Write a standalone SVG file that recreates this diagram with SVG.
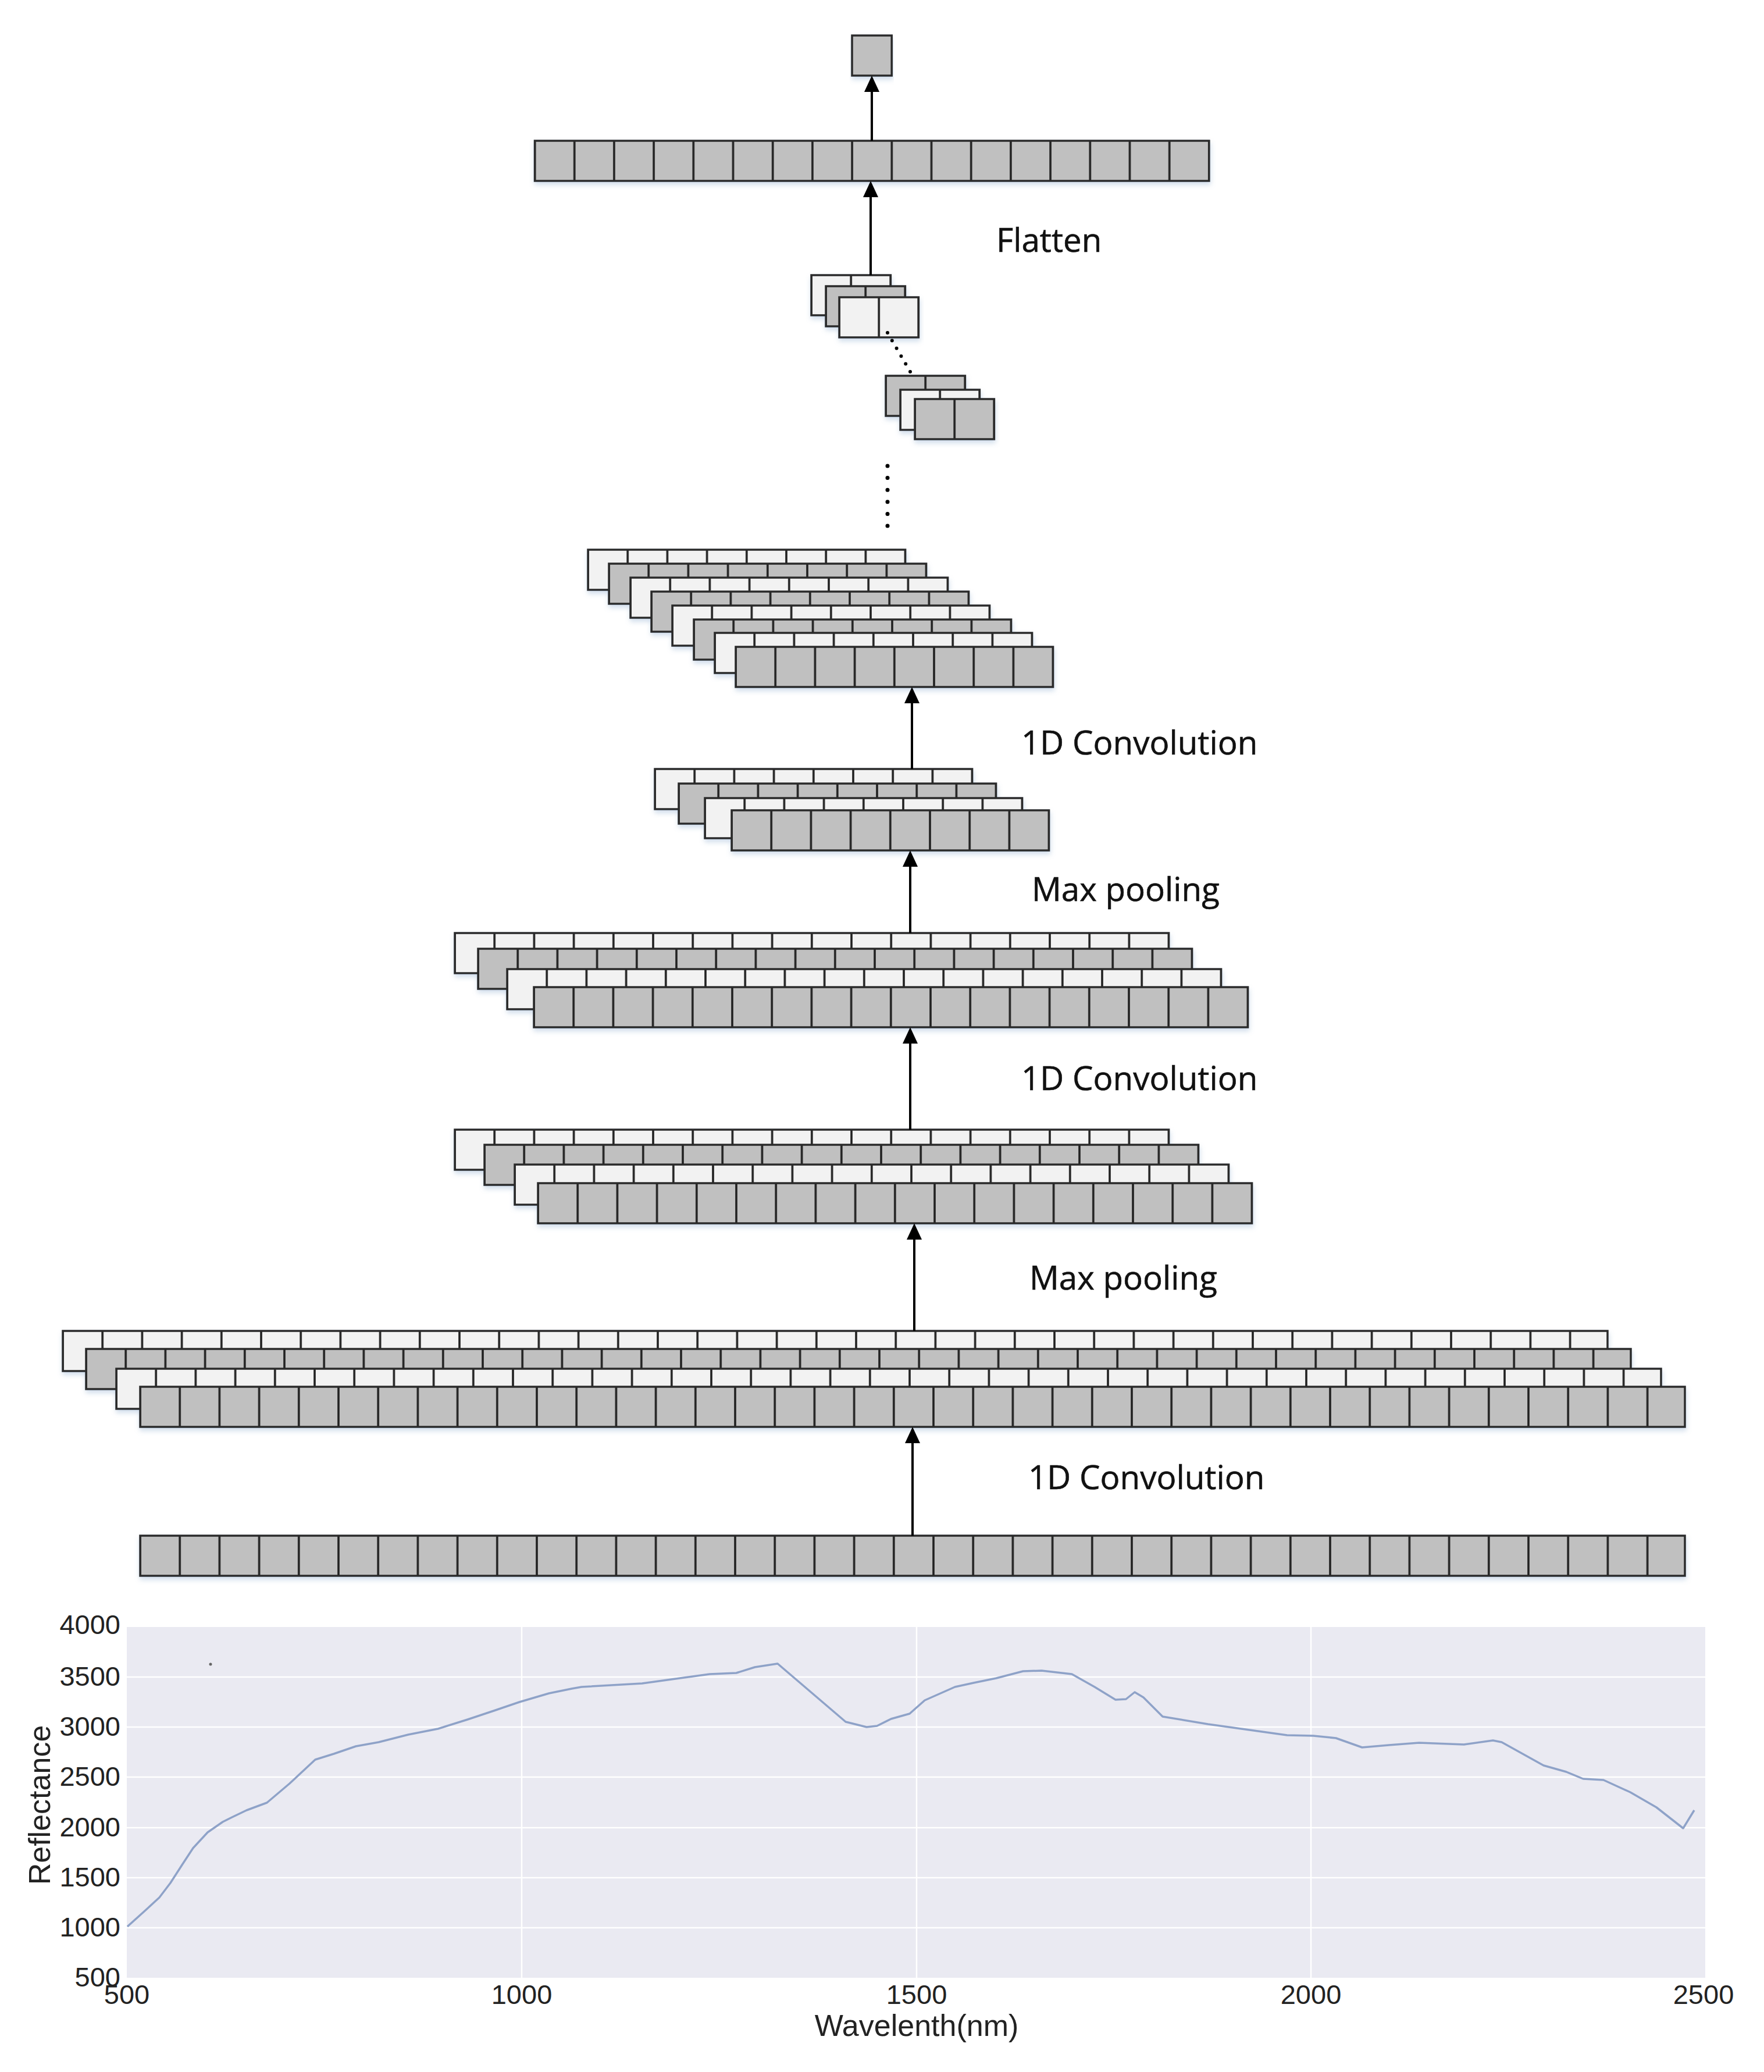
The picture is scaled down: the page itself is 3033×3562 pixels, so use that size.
<svg xmlns="http://www.w3.org/2000/svg" width="3033" height="3562" viewBox="0 0 3033 3562">
<style>
.lay{stroke:#2a2a2a;stroke-width:3.5}
.lbl{font-family:"Open Sans","Liberation Sans",sans-serif;font-size:56.5px;fill:#111;stroke:#111;stroke-width:0.6}
.tick{font-family:"Liberation Sans",Arial,sans-serif;font-size:47px;fill:#222}
.axl{font-family:"Liberation Sans",Arial,sans-serif;font-size:52px;fill:#222}
.conn{stroke:#000;stroke-width:4;fill:none}
.grid{stroke:#ffffff;stroke-width:2.5}
</style>
<defs>
<pattern id="pd" width="68.2" height="69" patternUnits="userSpaceOnUse">
<rect width="68.2" height="69" fill="#c0c0c0"/>
<rect width="1.8" height="69" fill="#222"/>
<rect x="66.4" width="1.8" height="69" fill="#222"/>
</pattern>
<pattern id="pl" width="68.2" height="69" patternUnits="userSpaceOnUse">
<rect width="68.2" height="69" fill="#f2f2f2"/>
<rect width="1.8" height="69" fill="#222"/>
<rect x="66.4" width="1.8" height="69" fill="#222"/>
</pattern>
<filter id="sh" x="-5%" y="-30%" width="110%" height="170%">
<feDropShadow dx="1" dy="5" stdDeviation="4" flood-color="#7a9cc6" flood-opacity="0.35"/>
</filter>
<marker id="ah" viewBox="0 0 28 26" markerWidth="28" markerHeight="26" refX="20" refY="13" orient="auto" markerUnits="userSpaceOnUse">
<path d="M0,0 L28,13 L0,26 z" fill="#000"/>
</marker>
</defs>
<rect width="3033" height="3562" fill="#ffffff"/>

<!-- Output node -->
<g id="output" filter="url(#sh)">
<rect class="lay" x="1465" y="61" width="68.2" height="69" fill="#c0c0c0"/>
</g>

<!-- Flatten row -->
<g id="flatten-row" filter="url(#sh)">
<g transform="translate(919.5,242)"><rect class="lay" width="1159.4" height="69" fill="url(#pd)"/></g>
</g>

<!-- small stack A -->
<g id="stack-small-a" filter="url(#sh)">
<g transform="translate(1395,473)"><rect class="lay" width="136.4" height="69" fill="url(#pl)"/></g>
<g transform="translate(1420,492)"><rect class="lay" width="136.4" height="69" fill="url(#pd)"/></g>
<g transform="translate(1443,511)"><rect class="lay" width="136.4" height="69" fill="url(#pl)"/></g>
</g>

<!-- small stack B -->
<g id="stack-small-b" filter="url(#sh)">
<g transform="translate(1523,646)"><rect class="lay" width="136.4" height="69" fill="url(#pd)"/></g>
<g transform="translate(1548,670)"><rect class="lay" width="136.4" height="69" fill="url(#pl)"/></g>
<g transform="translate(1573,686)"><rect class="lay" width="136.4" height="69" fill="url(#pd)"/></g>
</g>

<!-- 8-layer stack -->
<g id="stack-conv2" filter="url(#sh)">
<g transform="translate(1011,945)"><rect class="lay" width="545.6" height="69" fill="url(#pl)"/></g>
<g transform="translate(1047,969)"><rect class="lay" width="545.6" height="69" fill="url(#pd)"/></g>
<g transform="translate(1084,993)"><rect class="lay" width="545.6" height="69" fill="url(#pl)"/></g>
<g transform="translate(1120,1017)"><rect class="lay" width="545.6" height="69" fill="url(#pd)"/></g>
<g transform="translate(1156,1041)"><rect class="lay" width="545.6" height="69" fill="url(#pl)"/></g>
<g transform="translate(1193,1065)"><rect class="lay" width="545.6" height="69" fill="url(#pd)"/></g>
<g transform="translate(1229,1088)"><rect class="lay" width="545.6" height="69" fill="url(#pl)"/></g>
<g transform="translate(1265,1112)"><rect class="lay" width="545.6" height="69" fill="url(#pd)"/></g>
</g>

<!-- pool2 stack -->
<g id="stack-pool2" filter="url(#sh)">
<g transform="translate(1126,1322)"><rect class="lay" width="545.6" height="69" fill="url(#pl)"/></g>
<g transform="translate(1167,1347)"><rect class="lay" width="545.6" height="69" fill="url(#pd)"/></g>
<g transform="translate(1212,1372)"><rect class="lay" width="545.6" height="69" fill="url(#pl)"/></g>
<g transform="translate(1258,1393)"><rect class="lay" width="545.6" height="69" fill="url(#pd)"/></g>
</g>

<!-- conv-b stack -->
<g id="stack-conv1b" filter="url(#sh)">
<g transform="translate(782,1604)"><rect class="lay" width="1227.6" height="69" fill="url(#pl)"/></g>
<g transform="translate(822,1631)"><rect class="lay" width="1227.6" height="69" fill="url(#pd)"/></g>
<g transform="translate(872,1666)"><rect class="lay" width="1227.6" height="69" fill="url(#pl)"/></g>
<g transform="translate(918,1697)"><rect class="lay" width="1227.6" height="69" fill="url(#pd)"/></g>
</g>

<!-- pool1 stack -->
<g id="stack-pool1" filter="url(#sh)">
<g transform="translate(782,1942)"><rect class="lay" width="1227.6" height="69" fill="url(#pl)"/></g>
<g transform="translate(833,1968)"><rect class="lay" width="1227.6" height="69" fill="url(#pd)"/></g>
<g transform="translate(885,2002)"><rect class="lay" width="1227.6" height="69" fill="url(#pl)"/></g>
<g transform="translate(925,2034)"><rect class="lay" width="1227.6" height="69" fill="url(#pd)"/></g>
</g>

<!-- conv1 stack -->
<g id="stack-conv1" filter="url(#sh)">
<g transform="translate(108,2288)"><rect class="lay" width="2656" height="69" fill="url(#pl)"/></g>
<g transform="translate(148,2319)"><rect class="lay" width="2656" height="69" fill="url(#pd)"/></g>
<g transform="translate(200,2353)"><rect class="lay" width="2656" height="69" fill="url(#pl)"/></g>
<g transform="translate(241,2384)"><rect class="lay" width="2656" height="69" fill="url(#pd)"/></g>
</g>

<!-- input row -->
<g id="input-row" filter="url(#sh)">
<g transform="translate(241,2640)"><rect class="lay" width="2656" height="69" fill="url(#pd)"/></g>
</g>

<!-- connectors -->
<g id="connectors">
<line class="conn" x1="1569" y1="2640" x2="1569" y2="2461" marker-end="url(#ah)"/>
<line class="conn" x1="1572" y1="2288" x2="1572" y2="2111" marker-end="url(#ah)"/>
<line class="conn" x1="1565" y1="1942" x2="1565" y2="1774" marker-end="url(#ah)"/>
<line class="conn" x1="1565" y1="1604" x2="1565" y2="1470" marker-end="url(#ah)"/>
<line class="conn" x1="1568" y1="1322" x2="1568" y2="1189" marker-end="url(#ah)"/>
<line class="conn" x1="1497" y1="473" x2="1497" y2="319" marker-end="url(#ah)"/>
<line class="conn" x1="1499" y1="242" x2="1499" y2="138" marker-end="url(#ah)"/>
<line x1="1526" y1="572" x2="1565" y2="639" stroke="#000" stroke-width="6" stroke-linecap="round" stroke-dasharray="0 15.5"/>
<line x1="1526" y1="801" x2="1526" y2="905" stroke="#000" stroke-width="7" stroke-linecap="round" stroke-dasharray="0 20.6"/>
</g>

<!-- labels -->
<g id="labels">
<text class="lbl" x="1713" y="433">Flatten</text>
<text class="lbl" x="1756" y="1297">1D Convolution</text>
<text class="lbl" x="1774" y="1549">Max pooling</text>
<text class="lbl" x="1756" y="1874">1D Convolution</text>
<text class="lbl" x="1770" y="2217">Max pooling</text>
<text class="lbl" x="1768" y="2560">1D Convolution</text>
</g>

<!-- chart -->
<g id="chart">
<rect x="218" y="2797" width="2714" height="603" fill="#eaeaf2"/>
<g class="grid">
<line x1="218" y1="2883" x2="2932" y2="2883"/>
<line x1="218" y1="2969" x2="2932" y2="2969"/>
<line x1="218" y1="3055" x2="2932" y2="3055"/>
<line x1="218" y1="3142" x2="2932" y2="3142"/>
<line x1="218" y1="3228" x2="2932" y2="3228"/>
<line x1="218" y1="3314" x2="2932" y2="3314"/>
<line x1="897" y1="2797" x2="897" y2="3400"/>
<line x1="1576" y1="2797" x2="1576" y2="3400"/>
<line x1="2254" y1="2797" x2="2254" y2="3400"/>
</g>
<polyline fill="none" stroke="#8ea2c8" stroke-width="3.5" stroke-linejoin="round" points="219,3312 249,3285 274,3262 293,3237 313,3206 332,3177 357,3150 383,3132 399,3124 424,3112 459,3099 498,3066 542,3025 574,3015 612,3002 651,2995 702,2982 753,2972 804,2956 849,2941 893,2926 944,2911 983,2903 1000,2900 1104,2894 1169,2885 1220,2878 1266,2876 1298,2866 1337,2860 1454,2960 1490,2969 1508,2967 1532,2955 1564,2946 1590,2923 1642,2900 1674,2893 1713,2885 1759,2873 1791,2872 1843,2878 1882,2900 1918,2922 1936,2921 1951,2909 1966,2918 1999,2951 2077,2964 2213,2983 2258,2984 2297,2988 2342,3004 2388,3000 2440,2996 2517,2999 2567,2992 2582,2995 2654,3035 2693,3046 2722,3058 2757,3060 2803,3081 2848,3107 2894,3143 2913,3112"/>
<circle cx="362" cy="2861" r="2.5" fill="#666"/>
<g class="tick" text-anchor="end">
<text x="207" y="2809">4000</text>
<text x="207" y="2898">3500</text>
<text x="207" y="2984">3000</text>
<text x="207" y="3070">2500</text>
<text x="207" y="3157">2000</text>
<text x="207" y="3243">1500</text>
<text x="207" y="3329">1000</text>
<text x="207" y="3415">500</text>
</g>
<g class="tick" text-anchor="middle">
<text x="218" y="3445">500</text>
<text x="897" y="3445">1000</text>
<text x="1576" y="3445">1500</text>
<text x="2254" y="3445">2000</text>
<text x="2929" y="3445">2500</text>
</g>
<text class="axl" x="1576" y="3500" text-anchor="middle">Wavelenth(nm)</text>
<text class="axl" transform="translate(86,3103) rotate(-90)" text-anchor="middle">Reflectance</text>
</g>
</svg>
